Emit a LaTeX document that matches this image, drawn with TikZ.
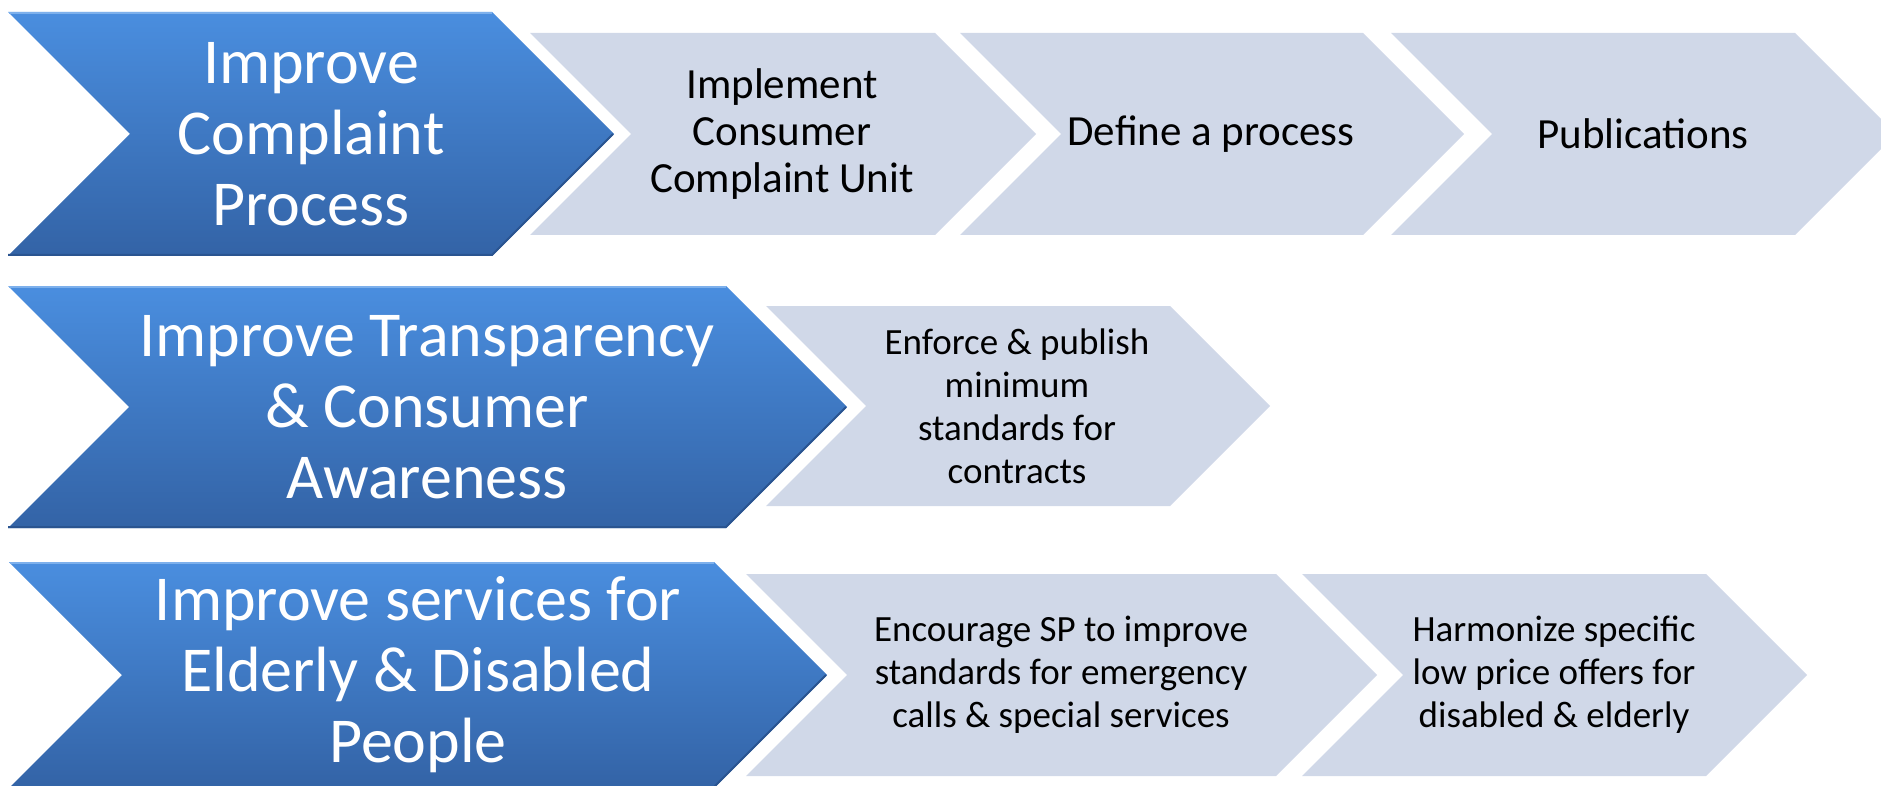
\documentclass[tikz,border=0pt]{standalone}
\usepackage{fontspec}
\setmainfont{Carlito}
\usetikzlibrary{calc}

\definecolor{goaltop}{HTML}{4A8EDF}
\definecolor{goalbot}{HTML}{3363A6}
\definecolor{goallight}{HTML}{7DB0EC}
\definecolor{goaldark}{HTML}{2A5490}
\definecolor{taskfill}{HTML}{D0D8E8}

\tikzset{
  goal/.style={top color=goaltop, bottom color=goalbot},
  goallit/.style={goallight, line width=2pt},
  goalshade/.style={goaldark, line width=2pt},
  task/.style={fill=taskfill},
  goaltext/.style={text=white, align=center, font=\fontsize{64}{71}\selectfont},
  tasktext/.style={text=black, align=center, font=\fontsize{37}{43}\selectfont},
}

\begin{document}
\begin{tikzpicture}[x=1pt, y=-1pt]
\useasboundingbox (0,0) rectangle (1881,786);
\clip (0,0) rectangle (1881,786);
% blue goals: left, right, middle, half height
\foreach \l/\r/\m/\h in {8/492/134/122, 8/726/407/121, 9/714/675/113} {
  \shade[goal] (\l,\m-\h) -- (\r,\m-\h) -- (\r+\h,\m) -- (\r,\m+\h) -- (\l,\m+\h) -- (\l+\h,\m) -- cycle;
  \draw[goallit] (\l+1,\m-\h+1) -- (\r,\m-\h+1);
  \draw[goalshade] (\r+\h-1,\m) -- (\r,\m+\h-1) -- (\l,\m+\h-1);
}
% grey tasks
\foreach \l/\r/\m/\h in {530/935/134/101, 960/1363/134/101, 1391/1795/134/101,
                         766/1170/406/100, 746/1276/675/101, 1302/1706/675/101} {
  \fill[task] (\l,\m-\h) -- (\r,\m-\h) -- (\r+\h,\m) -- (\r,\m+\h) -- (\l,\m+\h) -- (\l+\h,\m) -- cycle;
}

\node[goaltext] (complaint) at (311,134) {Improve\\Complaint\\Process};
\node[goaltext] (transparency) at (427,407) {Improve Transparency\\\& Consumer\\Awareness};
\node[goaltext] (services) at (418,675) {Improve services for\\Elderly \& Disabled\\People};

\node[tasktext, font=\fontsize{43}{47}\selectfont] (unit) at (782,134) {Implement\\Consumer\\Complaint Unit};
\node[tasktext, font=\fontsize{43}{47}\selectfont] (define) at (1211,134) {Define a process};
\node[tasktext, font=\fontsize{43}{47}\selectfont] (publications) at (1643,134) {Publications};
\node[tasktext] (contracts) at (1017,406) {Enforce \& publish\\minimum\\standards for\\contracts};
\node[tasktext] (emergency) at (1061,675) {Encourage SP to improve\\standards for emergency\\calls \& special services};
\node[tasktext] (harmonize) at (1554,675) {Harmonize specific\\low price offers for\\disabled \& elderly};
\end{tikzpicture}
\end{document}
